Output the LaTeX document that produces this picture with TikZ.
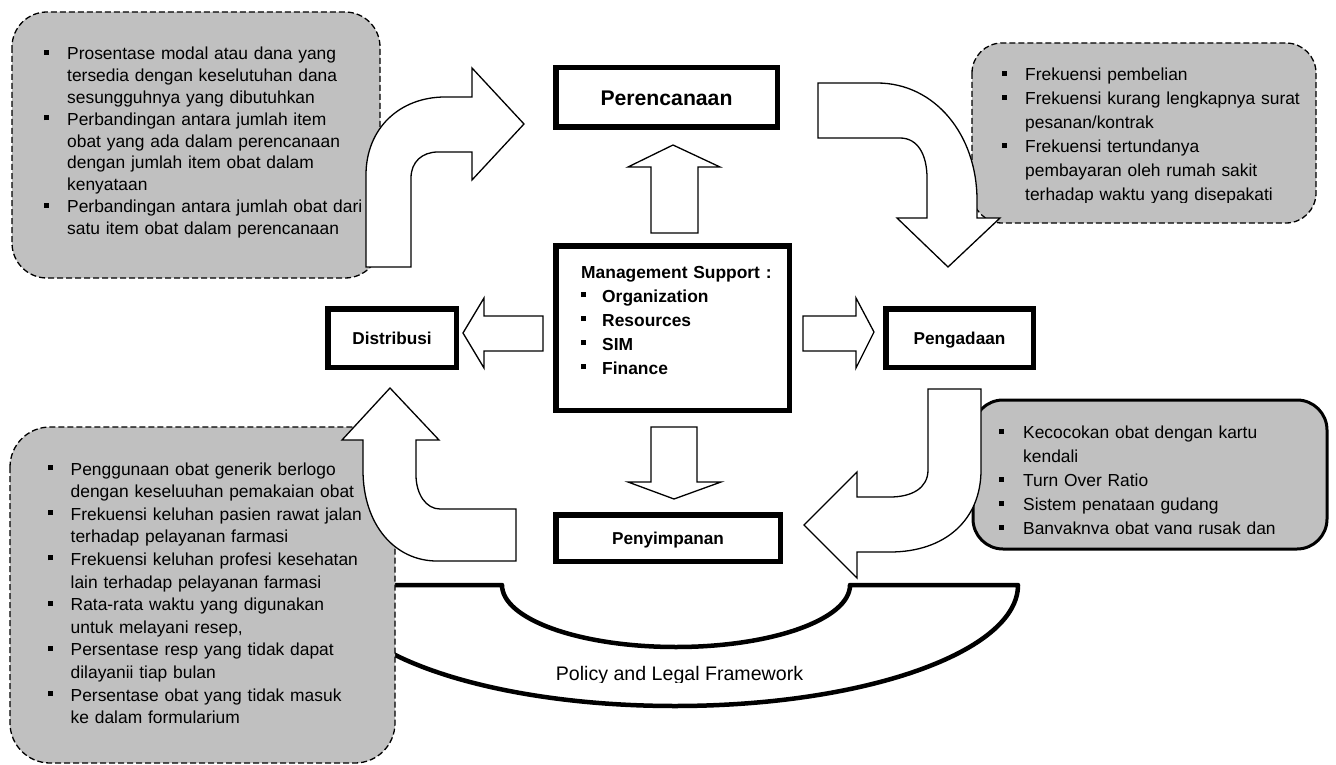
\documentclass[tikz,border=0pt]{standalone}
\usepackage{fontspec}
\setmainfont{Liberation Sans}
\definecolor{boxgray}{RGB}{192,192,192}
\newcommand{\sqbul}{\raisebox{5pt}{\rule{5pt}{5pt}}}
\newcommand{\itm}[2][23.5pt]{\hangindent=#1\hangafter=1\noindent\makebox[#1][l]{\sqbul}#2\par}
\tikzset{
  blockarrow/.style={draw=black, fill=white, line width=1.3pt, line join=miter},
  callout/.style={draw=black, fill=boxgray, line width=1.3pt, dash pattern=on 6pt off 3pt, rounded corners=#1},
  solidcallout/.style={draw=black, fill=boxgray, line width=3pt, rounded corners=#1},
  procbox/.style={draw=black, fill=white, line width=5.5pt, inner sep=0pt,
    font=\bfseries\fontsize{17.2}{20}\selectfont, text height=12.3pt, text depth=0pt},
  listtext/.style={anchor=base west, inner sep=0pt, text width=#1},
  policyline/.style={draw=black, fill=white, line width=4.5pt, line join=round}
}
\begin{document}
\begin{tikzpicture}[x=1pt,y=-1pt]
\useasboundingbox (0,0) rectangle (1336,765);
\fill[white] (0,0) rectangle (1336,765);

% Policy and legal framework bowl
\draw[policyline] (332,585) -- (502,585)
  .. controls (502,619.2) and (579.9,647) .. (676,647)
  .. controls (772.1,647) and (850,619.2) .. (850,585) -- (1018,585)
  .. controls (1018,651.8) and (864.4,706) .. (675,706)
  .. controls (485.6,706) and (332,651.8) .. (332,585) -- cycle;
\begin{scope}
  \clip (500,640) rectangle (860,682);
  \node[anchor=base, inner sep=0pt, font=\fontsize{19.6}{22}\selectfont] (policy) at (679.5,680) {Policy and Legal Framework};
\end{scope}

% top-left callout
\draw[callout=35] (12,12) rectangle (380,278);
\node[listtext=360pt, font={\fontsize{17.4}{21.8}\selectfont}] (tltext) at (43.5,60) {%
  \itm{Prosentase modal atau dana yang\newline tersedia dengan keselutuhan dana\newline sesungguhnya yang dibutuhkan}%
  \itm{Perbandingan antara jumlah item\newline obat yang ada dalam perencanaan\newline dengan jumlah item obat dalam\newline kenyataan}%
  \itm{Perbandingan antara jumlah obat dari\newline satu item obat dalam perencanaan}};
\draw[blockarrow] (366,267) -- (366,175) .. controls (366,128) and (400,97) .. (445,97) -- (472,97)
  -- (472,68) -- (524,124) -- (472,180) -- (472,152) -- (438,152)
  .. controls (422,152) and (411,162) .. (411,178) -- (411,267) -- cycle;

% top-right callout
\draw[callout=30] (972,43) rectangle (1316,223);
\begin{scope}
  \clip (972,43) rectangle (1316,202);
  \node[listtext=320pt, font={\fontsize{17.4}{24}\selectfont}] (trtext) at (1002,81) {%
    \itm[23pt]{Frekuensi pembelian}%
    \itm[23pt]{Frekuensi kurang lengkapnya surat\newline pesanan/kontrak}%
    \itm[23pt]{Frekuensi tertundanya\newline pembayaran oleh rumah sakit\newline terhadap waktu yang disepakati}};
\end{scope}
\draw[blockarrow] (818,83) -- (877,83) .. controls (935,83) and (977,135) .. (977,200) -- (977,218)
  -- (1000,218) -- (948,267) -- (897,218) -- (927,218) -- (927,178)
  .. controls (927,155) and (918,138) .. (900,138) -- (818,138) -- cycle;

% bottom-right callout
\draw[solidcallout=30] (973,400) rectangle (1327,549);
\begin{scope}
  \clip (973,400) rectangle (1327,533);
  \node[listtext=320pt, font={\fontsize{17.4}{24}\selectfont}] (brtext) at (999,438.5) {%
    \itm[24pt]{Kecocokan obat dengan kartu\newline kendali}%
    \itm[24pt]{Turn Over Ratio}%
    \itm[24pt]{Sistem penataan gudang}%
    \itm[24pt]{Banyaknya obat yang rusak dan}};
\end{scope}
\draw[blockarrow] (928,389) -- (981,389) -- (981,470) .. controls (981,520) and (945,552) .. (890,552)
  -- (857,552) -- (857,578) -- (804,525) -- (857,472) -- (857,497) -- (890,497)
  .. controls (912,497) and (928,488) .. (928,470) -- cycle;

% bottom-left callout
\draw[callout=40] (10,427) rectangle (395,763);
\node[listtext=360pt, font={\fontsize{17.4}{22.6}\selectfont}] (bltext) at (47.5,475) {%
  \itm[23pt]{Penggunaan obat generik berlogo\newline dengan keseluuhan pemakaian obat}%
  \itm[23pt]{Frekuensi keluhan pasien rawat jalan\newline terhadap pelayanan farmasi}%
  \itm[23pt]{Frekuensi keluhan profesi kesehatan\newline lain terhadap pelayanan farmasi}%
  \itm[23pt]{Rata-rata waktu yang digunakan\newline untuk melayani resep,}%
  \itm[23pt]{Persentase resp yang tidak dapat\newline dilayanii tiap bulan}%
  \itm[23pt]{Persentase obat yang tidak masuk\newline ke dalam formularium}};
\draw[blockarrow] (437,561) -- (516,561) -- (516,509) -- (440,509)
  .. controls (426,509) and (416,494) .. (416,475) -- (416,440) -- (439,440)
  -- (390,388) -- (342,440) -- (363,440) -- (363,470)
  .. controls (363,525) and (395,561) .. (437,561) -- cycle;

% central process boxes
\node[procbox, minimum width=221.5pt, minimum height=59.5pt,
  font=\bfseries\fontsize{21.2}{24}\selectfont, text height=15.2pt] (per) at (666.5,97.5) {Perencanaan};
\node[procbox, minimum width=233.5pt, minimum height=164.5pt] (ms) at (672.5,328) {};
\node[listtext=220pt, font={\bfseries\fontsize{17.4}{24}\selectfont}] (mstext) at (581,278) {%
  Management Support :\par
  \itm[21pt]{Organization}%
  \itm[21pt]{Resources}%
  \itm[21pt]{SIM}%
  \itm[21pt]{Finance}};
\node[procbox, minimum width=128.5pt, minimum height=58.5pt] (dis) at (392,338) {Distribusi};
\node[procbox, minimum width=147.5pt, minimum height=58.5pt] (pen) at (959.5,338) {Pengadaan};
\node[procbox, minimum width=224.5pt, minimum height=46.5pt] (sim) at (668,538) {Penyimpanan};

% straight block arrows from Management Support
\draw[blockarrow] (651,233) -- (651,167) -- (628,167) -- (673,145) -- (720,167) -- (698,167) -- (698,233) -- cycle;
\draw[blockarrow] (651,427) -- (697,427) -- (697,482) -- (721,482) -- (674,499) -- (628,482) -- (651,482) -- cycle;
\draw[blockarrow] (543,316) -- (484,316) -- (484,298) -- (463,333) -- (484,368) -- (484,351) -- (543,351) -- cycle;
\draw[blockarrow] (803,316) -- (856,316) -- (856,298) -- (874,332) -- (856,368) -- (856,351) -- (803,351) -- cycle;
\end{tikzpicture}
\end{document}
